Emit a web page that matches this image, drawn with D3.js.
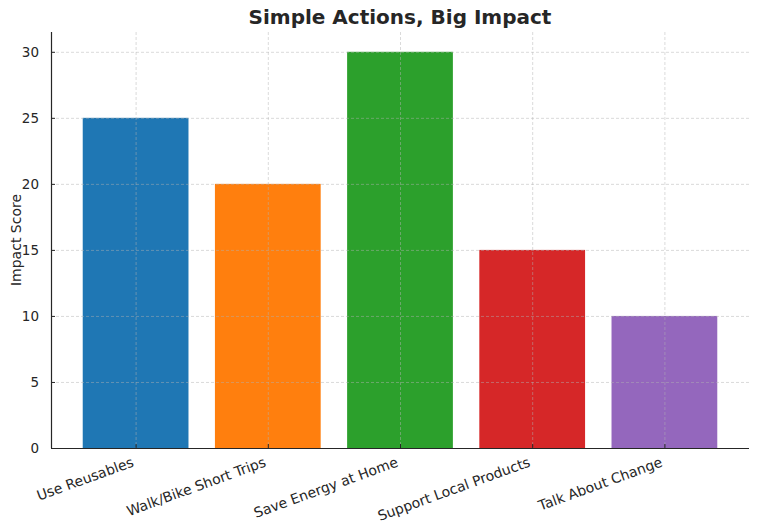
<!DOCTYPE html>
<html>
<head>
<meta charset="utf-8">
<script src="https://cdn.jsdelivr.net/npm/d3@7"></script>
<style>
  body { margin: 0; background: #fff; }
  text { font-family: "DejaVu Sans", sans-serif; fill: #262626; }
</style>
</head>
<body>
<div id="chart"></div>
<script>
// chart data
const actions = ["Use Reusables", "Walk/Bike Short Trips", "Save Energy at Home", "Support Local Products", "Talk About Change"];
const scores = [25, 20, 30, 15, 10];
const colors = ["#1f77b4", "#ff7f0e", "#2ca02c", "#d62728", "#9467bd"];
const yTicks = [0, 5, 10, 15, 20, 25, 30];

let width = 758,
    height = 528,
    margin = ({ top: 32, right: 9, bottom: 80, left: 51 });

const svg = d3.select("#chart")
  .append("svg")
  .attr("width", width)
  .attr("height", height);

// band positions like matplotlib (bar width 0.8, margins 0.05)
const n = actions.length;
const x = d3.scaleLinear()
  .domain([-0.4 - 0.05 * (n - 0.2), n - 0.6 + 0.05 * (n - 0.2)])
  .range([margin.left, width - margin.right]);

const y = d3.scaleLinear()
  .domain([0, 31.5])
  .range([height - margin.bottom, margin.top]);

const data = actions.map((a, i) => ({ action: a, score: scores[i], color: colors[i], i: i }));

// bars
svg.append("g")
  .selectAll("rect")
  .data(data)
  .join("rect")
  .attr("x", d => x(d.i - 0.4))
  .attr("width", d => x(d.i + 0.4) - x(d.i - 0.4))
  .attr("y", d => y(d.score))
  .attr("height", d => y(0) - y(d.score))
  .attr("fill", d => d.color);

// grid lines on top of the bars
const grid = svg.append("g")
  .attr("stroke", "#b0b0b0")
  .attr("stroke-opacity", 0.6)
  .attr("stroke-width", 0.8)
  .attr("stroke-dasharray", "3,2");
grid.selectAll(".gy")
  .data(yTicks)
  .join("line")
  .attr("x1", margin.left)
  .attr("x2", width - margin.right)
  .attr("y1", d => y(d) + 0.5)
  .attr("y2", d => y(d) + 0.5);
grid.selectAll(".gx")
  .data(data)
  .join("line")
  .attr("x1", d => x(d.i) + 0.5)
  .attr("x2", d => x(d.i) + 0.5)
  .attr("y1", margin.top)
  .attr("y2", height - margin.bottom);

// y axis
const yAxis = svg.append("g")
  .attr("transform", `translate(${margin.left},0)`)
  .call(d3.axisLeft(y).tickValues(yTicks).tickSize(-4).tickPadding(12));
yAxis.select(".domain").attr("stroke", "#262626").attr("stroke-width", 1.2).attr("d", `M0.5,${margin.top}V${y(0)}`);
yAxis.selectAll(".tick line").attr("stroke", "#262626");
yAxis.selectAll(".tick text").style("font-size", "13.5px").style("font-family", "DejaVu Sans").attr("fill", "#262626");

// x axis
const xAxis = svg.append("g")
  .attr("transform", `translate(0,${y(0)})`)
  .call(d3.axisBottom(x).tickValues(d3.range(n)).tickSize(-4).tickFormat(""));
xAxis.select(".domain").attr("stroke", "#262626").attr("stroke-width", 1.2)
  .attr("d", `M${margin.left},0.5H${width - margin.right}`);
xAxis.selectAll(".tick line").attr("stroke", "#262626");

svg.append("g")
  .selectAll("text")
  .data(data)
  .join("text")
  .attr("text-anchor", "end")
  .attr("transform", d => `translate(${x(d.i) - 1},${y(0) + 18}) rotate(-20)`)
  .style("font-size", "14px")
  .text(d => d.action);

// axis label
svg.append("text")
  .attr("transform", `translate(21,${(margin.top + y(0)) / 2}) rotate(-90)`)
  .attr("text-anchor", "middle")
  .style("font-size", "14px")
  .text("Impact Score");

// title
svg.append("text")
  .attr("x", (margin.left + width - margin.right) / 2)
  .attr("y", 24)
  .attr("text-anchor", "middle")
  .style("font-size", "20px")
  .style("font-weight", "bold")
  .text("Simple Actions, Big Impact");
</script>
</body>
</html>
